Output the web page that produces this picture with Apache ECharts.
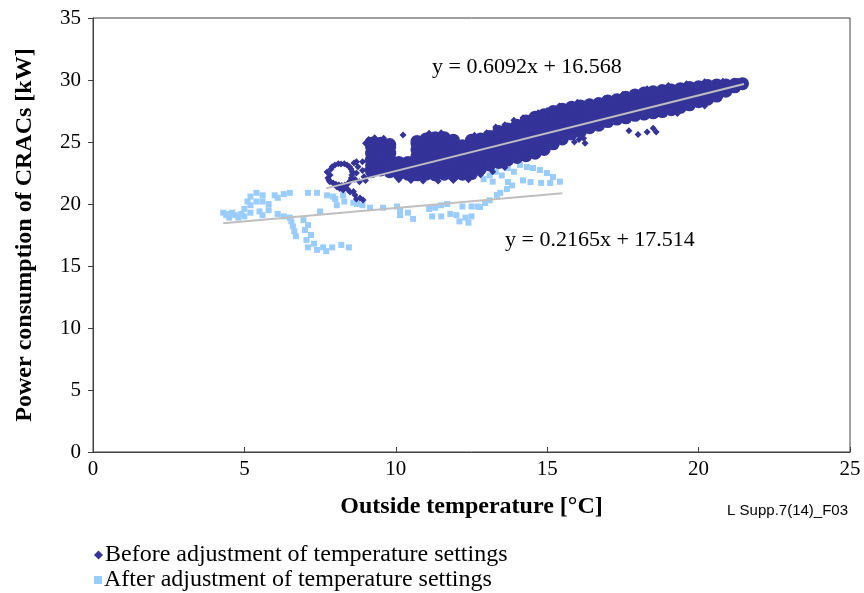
<!DOCTYPE html>
<html>
<head>
<meta charset="utf-8">
<script src="https://cdn.jsdelivr.net/npm/echarts@6/dist/echarts.min.js"></script>
<style>
html,body{margin:0;padding:0;background:#fff;}
#chart{width:864px;height:593px;}
</style>
</head>
<body>
<div id="chart"></div>
<script>
// ---- Data ----
var seriesNames = ['Before adjustment of temperature settings', 'After adjustment of temperature settings'];
var xTicks = [0, 5, 10, 15, 20, 25];
var yTicks = [0, 5, 10, 15, 20, 25, 30, 35];

// Before adjustment: dense main band
var beforeBand = [
[9.2,22.6],[9.2,23.1],[9.2,23.6],[9.2,24.1],[9.2,24.6],[9.2,24.9],
[9.5,22.75],[9.5,23.25],[9.5,23.75],[9.5,24.25],[9.5,24.75],[9.5,24.9],
[9.8,22.6],[9.8,23.1],[9.8,23.6],[9.8,24.1],[9.8,24.6],[9.8,24.8],
[10.1,22.45],[10.1,22.95],[10.1,23.35],
[10.4,22.4],[10.4,22.9],[10.4,23.35],
[10.7,22.35],[10.7,22.85],[10.7,23.35],[10.7,23.85],[10.7,24.35],[10.7,24.85],[10.7,25.05],
[11.0,22.4],[11.0,22.9],[11.0,23.4],[11.0,23.9],[11.0,24.4],[11.0,24.9],[11.0,25.25],
[11.3,22.35],[11.3,22.85],[11.3,23.35],[11.3,23.85],[11.3,24.35],[11.3,24.85],[11.3,25.35],
[11.6,22.4],[11.6,22.9],[11.6,23.4],[11.6,23.9],[11.6,24.4],[11.6,24.9],[11.6,25.35],
[11.9,22.35],[11.9,22.85],[11.9,23.35],[11.9,23.85],[11.9,24.35],[11.9,24.85],[11.9,25.15],
[12.2,22.4],[12.2,22.9],[12.2,23.4],[12.2,23.9],[12.2,24.4],[12.2,24.7],
[12.5,22.45],[12.5,22.95],[12.5,23.45],[12.5,23.95],[12.5,24.45],[12.5,24.95],[12.5,25.15],
[12.8,22.85],[12.8,23.35],[12.8,23.85],[12.8,24.35],[12.8,24.85],[12.8,25.25],
[13.1,23.15],[13.1,23.65],[13.1,24.15],[13.1,24.65],[13.1,25.15],[13.1,25.45],
[13.4,23.35],[13.4,23.85],[13.4,24.35],[13.4,24.85],[13.4,25.35],[13.4,25.85],
[13.7,23.55],[13.7,24.05],[13.7,24.55],[13.7,25.05],[13.7,25.55],[13.7,26.05],
[14.0,23.75],[14.0,24.25],[14.0,24.75],[14.0,25.25],[14.0,25.75],[14.0,26.35],
[14.3,23.9],[14.3,24.45],[14.3,24.95],[14.3,25.45],[14.3,25.95],[14.3,26.45],[14.3,26.7],
[14.6,24.1],[14.6,24.6],[14.6,25.1],[14.6,25.6],[14.6,26.1],[14.6,26.6],[14.6,27.0],
[14.9,24.4],[14.9,24.95],[14.9,25.45],[14.9,25.95],[14.9,26.45],[14.9,26.95],[14.9,27.2],
[15.2,24.85],[15.2,25.45],[15.2,25.95],[15.2,26.45],[15.2,26.95],[15.2,27.45],
[15.5,25.25],[15.5,25.85],[15.5,26.35],[15.5,26.85],[15.5,27.35],[15.5,27.65],
[15.8,25.65],[15.8,26.25],[15.8,26.75],[15.8,27.25],[15.8,27.8],
[16.1,25.85],[16.1,26.45],[16.1,26.95],[16.1,27.45],[16.1,27.9],
[16.4,26.15],[16.4,26.75],[16.4,27.25],[16.4,27.75],[16.4,28.0],
[16.7,26.35],[16.7,26.95],[16.7,27.45],[16.7,28.1],
[17.0,26.65],[17.0,27.25],[17.0,27.75],[17.0,28.3],
[17.3,26.85],[17.3,27.45],[17.3,27.95],[17.3,28.4],
[17.6,26.95],[17.6,27.55],[17.6,28.05],[17.6,28.6],
[17.9,27.15],[17.9,27.75],[17.9,28.25],[17.9,28.8],
[18.2,27.25],[18.2,27.85],[18.2,28.35],[18.2,28.95],
[18.5,27.35],[18.5,27.95],[18.5,28.45],[18.5,29.05],
[18.8,27.45],[18.8,28.05],[18.8,28.55],[18.8,29.15],
[19.1,27.6],[19.1,28.2],[19.1,28.7],[19.1,29.2],
[19.4,27.8],[19.4,28.4],[19.4,28.9],[19.4,29.3],
[19.7,28.0],[19.7,28.6],[19.7,29.1],[19.7,29.4],
[20.0,28.25],[20.0,28.85],[20.0,29.45],
[20.3,28.45],[20.3,29.05],[20.3,29.55],
[20.6,28.7],[20.6,29.3],[20.6,29.6],
[20.9,29.1],[20.9,29.6],
[21.2,29.45],[21.2,29.65],
[21.45,29.7]
];

// Before adjustment: loop, tail, connections, ragged edges and stray points (finer detail)
var beforeDetail = [
[7.83,22.34],[7.86,22.82],[7.99,23.15],[8.19,23.23],[8.39,23.15],[8.52,22.82],[8.55,22.34],
[8.49,21.85],[8.32,21.53],[8.12,21.53],[7.93,21.69],[7.79,21.94],[7.73,22.58],[7.76,22.1],
[7.9,23.0],[8.1,23.25],[8.3,23.25],[8.47,23.0],[8.56,22.6],[8.53,22.1],[8.42,21.65],
[8.22,21.5],[8.02,21.6],[7.82,21.8],
[8.65,22.0],[8.7,22.5],[8.75,23.0],[8.9,23.4],[8.9,22.7],[8.95,22.2],[9.0,21.9],[8.8,21.8],
[8.7,23.4],[9.05,23.5],[9.05,22.8],[8.62,23.3],
[8.06,21.37],[8.26,21.13],[8.49,20.97],[8.65,20.73],[8.82,20.48],[8.92,20.32],[8.7,20.4],
[8.4,21.2],[8.6,21.0],[8.15,21.25],
[10.24,25.56],[9.0,24.9],[9.1,25.2],[9.6,25.3],[9.3,25.35],
[10.1,21.95],[10.5,21.9],[10.9,21.85],[11.4,21.85],[11.9,21.9],[12.4,21.95],[12.8,22.35],
[13.2,22.6],[13.6,22.95],[11.1,25.7],[11.5,25.75],[12.6,25.55],[13.0,25.75],[13.3,26.2],
[13.6,26.4],[13.9,26.75],[14.2,26.95],[14.7,27.35],[15.0,27.55],[15.4,27.9],[16.0,28.2],
[16.9,28.5],[17.5,28.85],[18.3,29.3],[19.0,29.55],[19.6,29.7],[20.2,29.85],[20.8,29.9],
[21.3,29.9],[21.5,29.5],
[16.05,25.2],[16.25,24.9],[17.7,25.9],[18.0,25.6],[18.3,25.8],[18.6,25.8],[18.5,26.1],
[15.9,25.0],[16.2,25.3],[19.3,27.3],[20.2,27.9]
];

// After adjustment of temperature settings
var after = [
[4.3,19.3],[4.5,19.2],[4.7,19.1],[4.9,19.2],[4.5,18.9],[4.8,18.9],[5.0,19.0],
[5.0,19.6],[5.2,19.9],[5.4,20.2],[5.2,20.6],[5.4,20.9],[5.6,20.7],[5.6,20.2],[5.8,20.0],
[5.8,19.5],[5.5,19.4],[5.2,19.3],[5.6,19.1],[4.4,19.1],[4.6,19.3],[5.1,20.2],
[6.0,20.7],[6.3,20.8],[6.5,20.9],[6.1,20.5],
[6.1,19.2],[6.3,19.0],[6.5,18.9],
[6.55,18.6],[6.6,18.2],[6.65,17.8],[6.7,17.4],
[6.95,18.7],[7.1,18.3],[7.0,17.9],[7.2,17.5],[7.05,17.1],[7.3,16.8],[7.1,16.5],[7.4,16.3],
[7.6,16.5],[7.9,16.5],[8.2,16.7],[8.45,16.5],[7.7,16.2],
[7.1,20.9],[7.4,20.9],
[7.93,20.6],[8.26,20.7],[8.05,19.9],[7.5,19.4],[8.72,20.0],[9.15,19.7],[9.58,19.7],
[10.04,19.8],[10.14,19.1],
[7.73,20.7],[8.0,20.4],[8.3,20.2],[8.6,20.1],[8.9,19.9],
[10.14,19.5],[10.4,19.3],[10.57,18.8],
[11.1,19.6],[11.3,19.7],[11.5,19.9],[11.7,20.0],[11.2,19.0],[11.5,19.0],[11.8,19.2],
[12.0,19.1],[12.3,18.9],[12.5,19.0],[12.1,18.6],[12.4,18.5],
[12.2,19.8],[12.5,19.8],[12.7,19.8],
[12.78,19.76],[12.95,20.08],[13.1,20.3],[13.34,20.73],[13.45,20.9],[13.67,21.2],[13.84,21.5],[13.7,21.77],
[14.1,23.15],[14.33,22.98],[14.53,22.9],[14.76,22.74],[14.99,22.5],[15.19,22.18],[15.42,21.8],
[15.1,21.7],[14.8,21.7],[14.45,21.77],[14.2,21.9],
[12.9,22.0],[13.1,22.3],[13.3,22.6],[13.5,22.3],[13.7,22.9],[13.9,22.6],[13.2,21.8],[12.8,22.5]
];

// Linear trend lines (end points of the fitted lines shown in the picture)
var trendBefore = [[7.7, 21.26], [21.5, 29.67]];
var trendAfter = [[4.3, 18.45], [15.5, 20.87]];
var eqBefore = 'y = 0.6092x + 16.568';
var eqAfter = 'y = 0.2165x + 17.514';
var figId = 'L Supp.7(14)_F03';

// ---- Chart ----
var darkColor = '#333399';
var lightColor = '#99ccff';
var serif = '"Liberation Serif", "Times New Roman", serif';

var legendText = {fontFamily: serif, fontSize: 24, color: '#000', padding: [0, 0, 0, -3]};

var chart = echarts.init(document.getElementById('chart'), null, {renderer: 'canvas'});
chart.setOption({
  animation: false,
  backgroundColor: '#fff',
  grid: {left: 93, right: 14, top: 18, bottom: 141, show: true, borderColor: '#404040', borderWidth: 1, backgroundColor: 'transparent'},
  xAxis: {
    type: 'value', min: xTicks[0], max: xTicks[xTicks.length - 1], interval: 5,
    axisLine: {show: true, onZero: false, lineStyle: {color: '#404040', width: 1}},
    axisTick: {show: true, inside: true, length: 5, lineStyle: {color: '#404040'}},
    splitLine: {show: false},
    axisLabel: {fontFamily: serif, fontSize: 21, color: '#000', margin: 7},
    name: 'Outside temperature [°C]', nameLocation: 'middle', nameGap: 43,
    nameTextStyle: {fontFamily: serif, fontSize: 24, fontWeight: 'bold', color: '#000'}
  },
  yAxis: {
    type: 'value', min: yTicks[0], max: yTicks[yTicks.length - 1], interval: 5,
    axisLine: {show: true, onZero: false, lineStyle: {color: '#404040', width: 1}},
    axisTick: {show: true, inside: false, length: 5, lineStyle: {color: '#404040'}},
    splitLine: {show: false},
    axisLabel: {fontFamily: serif, fontSize: 21, color: '#000', margin: 12},
    name: 'Power consumption of CRACs [kW]', nameLocation: 'middle', nameGap: 56, nameRotate: 90,
    nameTextStyle: {fontFamily: serif, fontSize: 24, fontWeight: 'bold', color: '#000'}
  },
  legend: [
    {left: 89, top: 538, itemWidth: 9, itemHeight: 9, textStyle: legendText,
     data: [{name: seriesNames[0], icon: 'diamond'}]},
    {left: 89, top: 563, itemWidth: 8, itemHeight: 8, textStyle: legendText,
     data: [{name: seriesNames[1], icon: 'rect'}]}
  ],
  series: [
    {name: seriesNames[0], type: 'scatter', data: beforeBand, symbol: 'circle', symbolSize: 13,
     itemStyle: {color: darkColor, opacity: 1}, z: 2},
    {name: seriesNames[0], type: 'scatter', data: beforeDetail, symbol: 'diamond', symbolSize: 7,
     itemStyle: {color: darkColor, opacity: 1}, z: 2},
    {name: seriesNames[1], type: 'scatter', data: after, symbol: 'rect', symbolSize: 6,
     itemStyle: {color: lightColor, opacity: 1}, z: 1},
    {name: 'trendBefore', type: 'line', data: trendBefore, symbol: 'none', z: 3,
     lineStyle: {color: '#bfbfbf', width: 2}},
    {name: 'trendAfter', type: 'line', data: trendAfter, symbol: 'none', z: 3,
     lineStyle: {color: '#bfbfbf', width: 2}}
  ],
  graphic: [
    {type: 'text', left: 432, top: 56, style: {text: eqBefore, font: '22px ' + serif, fill: '#000'}},
    {type: 'text', left: 505, top: 229, style: {text: eqAfter, font: '22px ' + serif, fill: '#000'}},
    {type: 'text', right: 16, top: 503, style: {text: figId, font: '15px "Liberation Sans", Arial, sans-serif', fill: '#000'}}
  ]
});
</script>
</body>
</html>
